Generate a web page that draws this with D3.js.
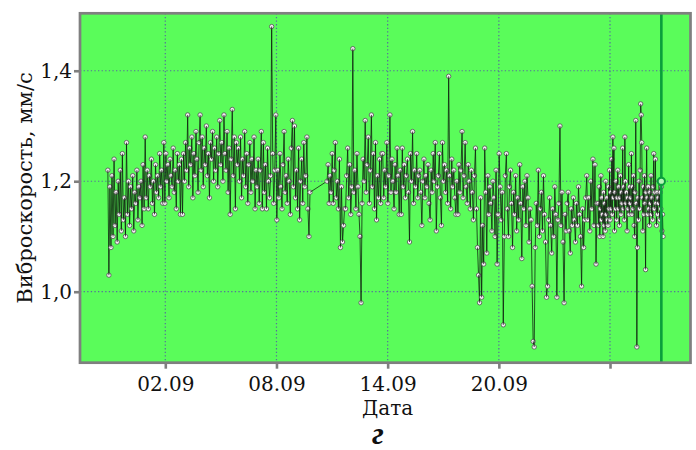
<!DOCTYPE html>
<html>
<head>
<meta charset="utf-8">
<script src="https://cdn.jsdelivr.net/npm/d3@7/dist/d3.min.js"></script>
<style>
  html, body { margin: 0; padding: 0; background: #ffffff; }
  svg { display: block; }
</style>
</head>
<body>
<svg id="chart" width="696" height="450"></svg>
<script>
// ---------- data ----------
// day numbers: d = day of September at 00:00 (02.09 -> 2, 31.08 -> 0)
const xTickDays = [2, 8, 14, 20, 26];
const xTickLabels = ["02.09", "08.09", "14.09", "20.09", ""];
const yTickValues = [1.0, 1.2, 1.4];
const yTickLabels = ["1,0", "1,2", "1,4"];
const xTitle = "Дата";
const yTitle = "Виброскорость, мм/с";
const panelLetter = "г";

// segment A: 29.08 ... 10.09 (before the gap)
const segAStart = -1.1, segAEnd = 9.81;
const segAValues = [
  1.22,1.03,1.19,1.08,1.21,1.10,1.24,1.12,1.18,1.09,1.20,1.14,1.22,1.11,1.25,1.13,1.17,1.10,
  1.27,1.14,1.20,1.12,1.19,1.15,1.21,1.11,1.18,1.16,1.22,1.13,1.19,1.17,1.20,1.12,1.23,1.15,
  1.28,1.17,1.22,1.15,1.21,1.19,1.24,1.16,1.20,1.14,1.23,1.18,1.21,1.17,1.25,1.19,1.22,1.16,
  1.27,1.16,1.25,1.20,1.23,1.17,1.24,1.21,1.19,1.26,1.18,1.22,1.15,1.25,1.20,1.23,1.14,1.24,
  1.14,1.25,1.20,1.27,1.22,1.32,1.19,1.26,1.23,1.28,1.17,1.25,1.21,1.29,1.24,1.18,1.27,1.32,
  1.22,1.28,1.19,1.26,1.23,1.30,1.21,1.25,1.17,1.27,1.24,1.29,1.20,1.26,1.22,1.28,1.19,1.25,
  1.31,1.23,1.27,1.20,1.32,1.25,1.22,1.29,1.18,1.26,1.14,1.24,1.33,1.21,1.28,1.15,1.27,1.23,
  1.26,1.20,1.28,1.17,1.24,1.21,1.29,1.19,1.25,1.16,1.23,1.27,1.18,1.24,1.20,1.28,1.15,1.22,
  1.19,1.24,1.16,1.22,1.29,1.15,1.27,1.18,1.23,1.15,1.26,1.20,1.17,1.21,1.48,1.25,1.16,1.22,
  1.32,1.13,1.22,1.17,1.25,1.19,1.15,1.23,1.29,1.18,1.21,1.16,1.24,1.20,1.14,1.26,1.31,1.19,
  1.30,1.17,1.22,1.15,1.26,1.13,1.20,1.24,1.16,1.27,1.19,1.21,1.28,1.15,1.10,1.18
];

// segment B: 10.09 ... 25.09 (after the gap)
const segBStart = 10.73, segBEnd = 25.30;
const segBValues = [
  1.20,1.23,1.16,1.21,1.18,1.25,1.16,1.22,1.27,1.17,1.20,1.15,1.24,1.08,1.19,1.09,1.12,1.15,
  1.15,1.21,1.26,1.17,1.23,1.14,1.19,1.44,1.18,1.22,1.15,1.25,1.19,1.14,1.10,0.98,1.16,1.24,
  1.20,1.31,1.18,1.23,1.28,1.16,1.22,1.32,1.19,1.25,1.15,1.27,1.13,1.21,1.17,1.24,1.16,1.25,
  1.25,1.17,1.22,1.19,1.27,1.16,1.21,1.32,1.18,1.24,1.20,1.15,1.23,1.18,1.26,1.21,1.14,1.22,
  1.14,1.26,1.19,1.23,1.17,1.21,1.24,1.18,1.09,1.25,1.20,1.29,1.16,1.22,1.19,1.25,1.17,1.21,
  1.22,1.18,1.12,1.20,1.24,1.17,1.21,1.19,1.23,1.16,1.13,1.22,1.18,1.25,1.20,1.27,1.11,1.19,
  1.21,1.25,1.17,1.12,1.27,1.20,1.23,1.18,1.22,1.16,1.39,1.21,1.15,1.24,1.19,1.22,1.17,1.14,
  1.20,1.14,1.23,1.18,1.22,1.29,1.17,1.21,1.27,1.19,1.16,1.23,1.20,1.15,1.22,1.18,1.13,1.21,
  1.26,1.15,1.08,1.03,0.98,1.17,0.99,1.12,1.05,1.26,1.18,1.07,1.21,1.14,1.19,1.16,1.11,1.20,
  1.17,1.10,1.22,1.05,1.14,1.25,1.19,1.13,1.18,0.94,1.10,1.21,1.25,1.15,1.10,1.19,1.22,1.16,
  1.08,1.18,1.14,1.21,1.11,1.17,1.13,1.23,1.16,1.06,1.19,1.15,1.20,1.12,1.21,1.17,1.09,1.15,
  1.13,1.01,0.91,0.90,1.08,1.16,1.12,1.22,1.10,1.15,1.18,1.11,1.21,1.14,1.09,0.99,1.01,1.13,
  1.17,1.12,1.07,1.15,1.10,1.19,1.14,0.99,1.13,1.16,1.30,1.12,1.18,1.09,0.98,1.14,1.11,1.16,
  1.18,1.11,1.07,1.15,1.12,1.17,1.13,1.09,1.16,1.12,1.19,1.14,1.10,1.01,1.15,1.08,1.13,1.17,
  1.21,1.13,1.17,1.11,1.20,1.15,1.24,1.12,1.23,1.05,1.16
];

// segment C: 25.09 ... 28.09 (denser recording)
const segCStart = 25.36, segCEnd = 28.86;
const segCValues = [
  1.16,1.12,1.19,1.10,1.15,1.21,1.13,1.17,1.14,1.10,1.18,1.12,1.16,1.11,1.20,1.14,1.17,1.13,1.12,1.19,1.15,1.22,1.13,1.18,1.15,1.24,1.14,1.28,1.17,1.26,
  1.11,1.18,1.15,1.20,1.13,1.17,1.22,1.15,1.19,1.12,1.17,1.21,1.14,1.18,1.16,1.26,1.15,1.19,1.13,1.28,1.20,1.16,1.18,1.11,1.17,1.15,1.23,1.14,1.19,1.16,
  1.17,1.25,1.14,1.19,1.15,1.21,1.12,1.10,1.18,1.31,1.16,0.90,1.08,1.17,1.13,1.20,1.15,1.22,1.34,1.32,1.27,1.17,1.11,1.19,1.14,1.21,1.16,1.04,1.18,1.26,
  1.17,1.14,1.19,1.15,1.12,1.18,1.16,1.21,1.14,1.17,1.13,1.19,1.25,1.15,1.18,1.24,1.16,1.12,1.18,1.14,1.17,1.16,1.20,1.13,1.18,1.15,1.19,1.11,1.14,1.10
];

// cursor (vertical marker line)
const cursorDay = 28.77;
const cursorValue = 1.2;

// ---------- build series ----------
function buildSegment(start, end, values) {
  const n = values.length;
  return values.map((v, i) => ({ t: start + i * (end - start) / (n - 1), v }));
}
const series = [].concat(
  buildSegment(segAStart, segAEnd, segAValues),
  buildSegment(segBStart, segBEnd, segBValues),
  buildSegment(segCStart, segCEnd, segCValues)
);

// ---------- layout ----------
const plot = { left: 80, right: 690.5, top: 13.3, bottom: 362.7 };
const svg = d3.select("#chart");

const x = d3.scaleLinear().domain([-2.603, 30.343]).range([plot.left, plot.right]);
const y = d3.scaleLinear().domain([0.8715, 1.504]).range([plot.bottom, plot.top]);

const serif = "'DejaVu Serif', 'Liberation Serif', serif";

svg.append("defs").append("clipPath").attr("id", "clip")
  .append("rect")
  .attr("x", plot.left).attr("y", plot.top)
  .attr("width", plot.right - plot.left).attr("height", plot.bottom - plot.top);

// background
svg.append("rect")
  .attr("x", plot.left).attr("y", plot.top)
  .attr("width", plot.right - plot.left).attr("height", plot.bottom - plot.top)
  .attr("fill", "#5afc5a");

// gridlines
const grid = svg.append("g").attr("stroke", "#56709c").attr("stroke-width", 1.2)
  .attr("stroke-dasharray", "1.3,2.3");
grid.selectAll("line.gx").data(xTickDays).join("line").attr("class", "gx")
  .attr("x1", d => x(d)).attr("x2", d => x(d))
  .attr("y1", plot.top).attr("y2", plot.bottom);
grid.selectAll("line.gy").data(yTickValues).join("line").attr("class", "gy")
  .attr("x1", plot.left).attr("x2", plot.right)
  .attr("y1", d => y(d)).attr("y2", d => y(d));

// data: drawn point by point (segment to the point, then its marker)
const dataG = svg.append("g").attr("clip-path", "url(#clip)");
const steps = dataG.selectAll("g.step").data(series).join("g").attr("class", "step");
steps.filter((d, i) => i > 0).append("line")
  .attr("x1", (d) => x(series[series.indexOf(d) - 1].t))
  .attr("y1", (d) => y(series[series.indexOf(d) - 1].v))
  .attr("x2", d => x(d.t)).attr("y2", d => y(d.v))
  .attr("stroke", "#0d1a0d").attr("stroke-width", 0.9).attr("stroke-opacity", 0.85);
steps.append("circle")
  .attr("cx", d => x(d.t)).attr("cy", d => y(d.v)).attr("r", 2.2)
  .attr("fill", "#f6eef6").attr("stroke", "#505050").attr("stroke-width", 0.8);

// cursor
dataG.append("line")
  .attr("x1", x(cursorDay)).attr("x2", x(cursorDay))
  .attr("y1", plot.top).attr("y2", plot.bottom)
  .attr("stroke", "#0a9e3c").attr("stroke-width", 2.6);
dataG.append("circle")
  .attr("cx", x(cursorDay)).attr("cy", y(cursorValue)).attr("r", 3.6)
  .attr("fill", "#b8f5b8").attr("stroke", "#0a9e3c").attr("stroke-width", 2);

// border
svg.append("rect")
  .attr("x", plot.left).attr("y", plot.top)
  .attr("width", plot.right - plot.left).attr("height", plot.bottom - plot.top)
  .attr("fill", "none").attr("stroke", "#7f7f7f").attr("stroke-width", 2.7);

// axes
const xAxis = d3.axisBottom(x).tickValues(xTickDays)
  .tickFormat((d, i) => xTickLabels[i]).tickSize(6).tickPadding(8);
const gx = svg.append("g").attr("transform", `translate(0,${plot.bottom})`).call(xAxis);
const yAxis = d3.axisLeft(y).tickValues(yTickValues)
  .tickFormat((d, i) => yTickLabels[i]).tickSize(6).tickPadding(2);
const gy = svg.append("g").attr("transform", `translate(${plot.left},0)`).call(yAxis);
[gx, gy].forEach(g => {
  g.select(".domain").remove();
  g.selectAll(".tick line").attr("stroke", "#7f7f7f").attr("stroke-width", 2.6);
  g.selectAll(".tick text").attr("fill", "#111").style("font-family", serif).style("font-size", "20px");
});

// titles
svg.append("text")
  .attr("x", x(14)).attr("y", 415)
  .attr("text-anchor", "middle")
  .style("font-family", serif).style("font-size", "20px").attr("fill", "#111")
  .text(xTitle);
svg.append("text")
  .attr("transform", `translate(32,${(plot.top + plot.bottom) / 2}) rotate(-90)`)
  .attr("text-anchor", "middle")
  .style("font-family", serif).style("font-size", "21px").attr("fill", "#111")
  .text(yTitle);
svg.append("text")
  .attr("x", 378).attr("y", 444)
  .attr("text-anchor", "middle")
  .style("font-family", "'Liberation Serif', serif").style("font-size", "32px")
  .style("font-weight", "bold").style("font-style", "italic").attr("fill", "#111")
  .text(panelLetter);
</script>
</body>
</html>
